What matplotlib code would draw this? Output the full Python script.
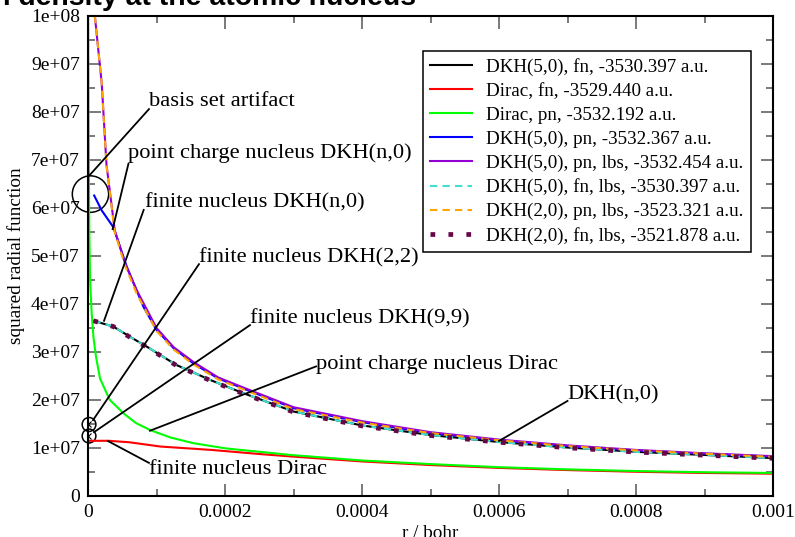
import numpy as np
import matplotlib.pyplot as plt
from matplotlib.patches import Ellipse

plt.rcParams['font.family'] = ['Liberation Serif', 'DejaVu Serif']

# radial distance in units of 1e-4 bohr, squared radial function in units of 1e7
r_dirac_pn = [0.003, 0.008, 0.015, 0.019, 0.03, 0.054, 0.08, 0.117, 0.175, 0.273, 0.32,
              0.52, 0.7, 0.905, 1.2, 1.54, 2.02, 2.51, 3.0, 4.0, 5.0, 6.0, 7.0, 8.0, 9.0, 10.0]
f_dirac_pn = [10.0, 8.0, 6.3, 5.54, 4.5, 3.8, 3.3, 2.9, 2.45, 2.14, 2.0,
              1.72, 1.52, 1.375, 1.22, 1.10, 0.99, 0.92, 0.85, 0.74, 0.665, 0.60, 0.555, 0.52, 0.495, 0.48]

r_dirac_fn = [0.0, 0.3, 0.6, 1.06, 1.8, 2.5, 3.0, 4.0, 5.0, 6.0, 7.0, 8.0, 9.0, 10.0]
f_dirac_fn = [1.15, 1.15, 1.12, 1.03, 0.96, 0.875, 0.82, 0.72, 0.645, 0.585, 0.54, 0.505, 0.48, 0.465]

r_dkh5_pn = [0.09, 0.2, 0.37, 0.565, 0.81, 1.0, 1.25, 1.54, 1.9, 2.32, 3.0, 4.0, 5.0, 6.0, 7.0, 8.0, 9.0, 10.0]
f_dkh5_pn = [6.26, 5.95, 5.6, 4.78, 3.94, 3.46, 3.08, 2.76, 2.45, 2.21, 1.83, 1.54, 1.31, 1.16, 1.04, 0.95, 0.88, 0.82]

r_dkh5_pn_lbs = [0.10, 0.20, 0.27, 0.39, 0.54, 0.71, 1.0, 1.25, 1.54, 1.9, 2.32, 3.0, 4.0, 5.0, 6.0, 7.0, 8.0, 9.0, 10.0]
f_dkh5_pn_lbs = [10.0, 8.6, 6.9, 5.54, 4.85, 4.29, 3.5, 3.1, 2.79, 2.47, 2.23, 1.85, 1.56, 1.33, 1.175, 1.055, 0.96, 0.89, 0.83]

r_dkh2_pn_lbs = [0.10, 0.20, 0.27, 0.39, 0.54, 0.71, 1.0, 1.25, 1.54, 1.9, 2.32, 3.0, 4.0, 5.0, 6.0, 7.0, 8.0, 9.0, 10.0]
f_dkh2_pn_lbs = [10.0, 8.6, 6.9, 5.5, 4.8, 4.22, 3.44, 3.05, 2.74, 2.43, 2.19, 1.81, 1.53, 1.31, 1.16, 1.04, 0.95, 0.88, 0.815]

r_dkh5_fn = [0.08, 0.37, 0.61, 0.86, 1.29, 1.78, 2.27, 3.0, 4.0, 5.0, 6.0, 7.0, 8.0, 9.0, 10.0]
f_dkh5_fn = [3.65, 3.53, 3.32, 3.11, 2.73, 2.42, 2.14, 1.76, 1.47, 1.27, 1.125, 1.01, 0.92, 0.855, 0.79]

r_dkh5_fn_lbs = r_dkh5_fn
f_dkh5_fn_lbs = [3.65, 3.53, 3.32, 3.11, 2.73, 2.42, 2.14, 1.76, 1.47, 1.27, 1.125, 1.01, 0.92, 0.855, 0.79]

r_dkh2_fn_lbs = r_dkh5_fn
f_dkh2_fn_lbs = [3.65, 3.53, 3.31, 3.10, 2.72, 2.41, 2.13, 1.75, 1.46, 1.26, 1.12, 1.005, 0.915, 0.85, 0.785]

# values at the origin for DKH(2,2) and DKH(9,9)
f_origin = [1.49, 1.25]

labels = ["DKH(5,0), fn, -3530.397 a.u.",
          "Dirac, fn, -3529.440 a.u.",
          "Dirac, pn, -3532.192 a.u.",
          "DKH(5,0), pn, -3532.367 a.u.",
          "DKH(5,0), pn, lbs, -3532.454 a.u.",
          "DKH(5,0), fn, lbs, -3530.397 a.u.",
          "DKH(2,0), pn, lbs, -3523.321 a.u.",
          "DKH(2,0), fn, lbs, -3521.878 a.u."]

series = [(r_dkh5_fn, f_dkh5_fn, dict(color='black', lw=1.5)),
          (r_dirac_fn, f_dirac_fn, dict(color='#ff0000', lw=1.5)),
          (r_dirac_pn, f_dirac_pn, dict(color='#00ff00', lw=1.5)),
          (r_dkh5_pn, f_dkh5_pn, dict(color='#0000ff', lw=1.5)),
          (r_dkh5_pn_lbs, f_dkh5_pn_lbs, dict(color='#9400d3', lw=1.5)),
          (r_dkh5_fn_lbs, f_dkh5_fn_lbs, dict(color='#40e0d0', lw=1.5, dashes=(3.5, 2.5))),
          (r_dkh2_pn_lbs, f_dkh2_pn_lbs, dict(color='#ffa500', lw=1.5, dashes=(3.5, 2.5))),
          (r_dkh2_fn_lbs, f_dkh2_fn_lbs, dict(color='#670748', lw=3.4, dashes=(1, 2.8)))]

fig = plt.figure(figsize=(7.95, 5.37), dpi=100)
ax = fig.add_axes([88 / 795, 1 - 496 / 537, 685 / 795, 480 / 537])

for (r, f, style), lab in zip(series, labels):
    ax.plot(np.array(r) * 1e-4, np.array(f) * 1e7, label=lab, **style)

ax.plot([0, 0], np.array(f_origin) * 1e7, ls='none', marker='x', ms=5, mew=0.8, color='black')

ax.set_xlim(0, 0.001)
ax.set_ylim(0, 1e8)
ax.set_xticks(np.arange(0, 0.00101, 0.0002))
ax.set_xticklabels(['0', '0.0002', '0.0004', '0.0006', '0.0008', '0.001'])
ax.set_xticks(np.arange(0, 0.00101, 0.0001), minor=True)
ax.set_yticks(np.arange(0, 1.01e8, 1e7))
ax.set_yticklabels(['0'] + ['%de+07' % i for i in range(1, 10)] + ['1e+08'])
ax.set_yticks(np.arange(0, 1.01e8, 5e6), minor=True)
ax.tick_params(which='both', direction='in', top=True, right=True,
               color='#555555', width=1.1, labelsize=14, pad=5.8)
ax.tick_params(which='major', length=9)
ax.tick_params(which='minor', length=5)
for sp in ax.spines.values():
    sp.set_linewidth(1.5)

# circles marking the points of interest
ax.add_patch(Ellipse((3.6e-6, 6.29e7), 5.3e-5, 7.6e6, fill=False, lw=1.1, color='black', clip_on=False))
for f0 in f_origin:
    ax.add_patch(Ellipse((1.5e-6, f0 * 1e7), 2.0e-5, 2.9e6, fill=False, lw=1.1, color='black', clip_on=False))

# annotation texts and leader lines
notes = [("basis set artifact", (8.9e-5, 8.21e7), (8.9e-5, 8.06e7), (1.5e-6, 6.67e7)),
         ("point charge nucleus DKH(n,0)", (5.9e-5, 7.15e7), (5.9e-5, 6.92e7), (3.6e-5, 5.56e7)),
         ("finite nucleus DKH(n,0)", (8.28e-5, 6.10e7), (8.13e-5, 5.96e7), (2.34e-5, 3.65e7)),
         ("finite nucleus DKH(2,2)", (1.62e-4, 4.96e7), (1.62e-4, 4.83e7), (7.3e-6, 1.58e7)),
         ("finite nucleus DKH(9,9)", (2.37e-4, 3.69e7), (2.365e-4, 3.56e7), (8.8e-6, 1.33e7)),
         ("point charge nucleus Dirac", (3.33e-4, 2.74e7), (3.33e-4, 2.70e7), (9.05e-5, 1.36e7)),
         ("DKH(n,0)", (7.0e-4, 2.10e7), (7.0e-4, 1.98e7), (6.0e-4, 1.146e7)),
         ("finite nucleus Dirac", (8.9e-5, 5.6e6), (8.9e-5, 6.9e6), (2.9e-5, 1.146e7))]
for text, pos, p0, p1 in notes:
    ax.plot([p0[0], p1[0]], [p0[1], p1[1]], color='black', lw=1.3)
    ax.text(pos[0], pos[1], text, ha='left', va='center', fontsize=16.2)

leg = ax.legend(loc='upper left', bbox_to_anchor=(423 / 795, 1 - 51 / 537),
                bbox_transform=fig.transFigure, borderaxespad=0, fontsize=13.7,
                handlelength=2.2, handletextpad=0.75, labelspacing=0.345,
                borderpad=0.38, fancybox=False, framealpha=1)
leg.get_frame().set_edgecolor('black')
leg.get_frame().set_linewidth(1.1)

fig.text(16 / 795, 1 - 256 / 537, "squared radial function",
         rotation=90, ha='center', va='center', fontsize=13.8)
fig.text(430 / 795, 1 - 533 / 537, "r / bohr", ha='center', va='center', fontsize=13.8)
fig.text(416 / 795, 1 - 5 / 537, "Electron density at the atomic nucleus", ha='right',
         va='baseline', fontsize=20.4, fontweight='bold', family='Liberation Sans')

fig.savefig("out.png", dpi=100)
